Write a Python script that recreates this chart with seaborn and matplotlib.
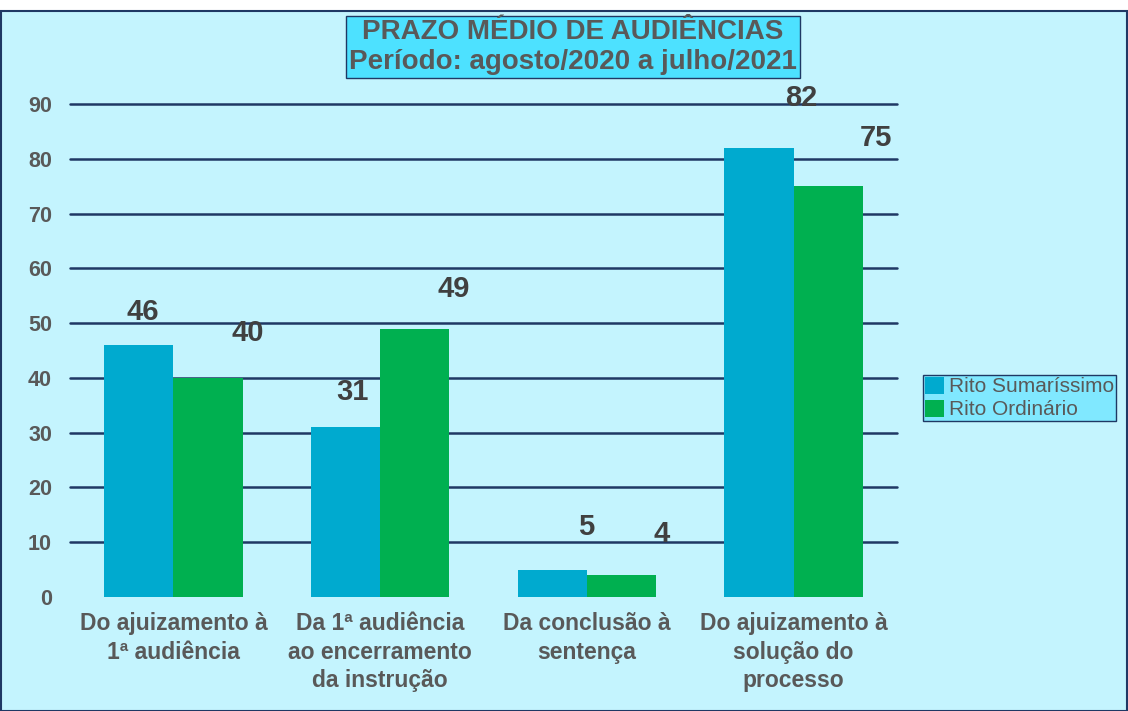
import pandas as pd
import numpy as np
import matplotlib
matplotlib.use('Agg')
import matplotlib.pyplot as plt
import seaborn as sns
from matplotlib.patches import Rectangle
import warnings
warnings.filterwarnings('ignore')

categories = ['Do ajuizamento à\n1ª audiência',
              'Da 1ª audiência\nao encerramento\nda instrução',
              'Da conclusão à\nsentença',
              'Do ajuizamento à\nsolução do\nprocesso']
series_names = ['Rito Sumaríssimo', 'Rito Ordinário']
sumarissimo = [46, 31, 5, 82]
ordinario = [40, 49, 4, 75]

# label offsets (px) to mimic the original label placement
label_dx = [[4, 7, 34, 42], [40, 39, 40, 48]]
label_dy = [33, 35, 43, 50, 45, 40, 41, 48]

BG = '#C4F4FE'
NAVY = '#1F3864'
GREY = '#595959'
colors = ['#00AACF', '#00B050']

sns.set_style('white')
plt.rcParams['font.family'] = ['Liberation Sans', 'DejaVu Sans']

df = pd.DataFrame({
    'categoria': categories * 2,
    'serie': [series_names[0]] * 4 + [series_names[1]] * 4,
    'valor': sumarissimo + ordinario,
})

fig = plt.figure(figsize=(11.28, 7.11), dpi=100)
fig.patch.set_facecolor('white')
fig.patches.append(Rectangle((0.001, 0.0), 0.998, 700 / 711, transform=fig.transFigure,
                             facecolor=BG, edgecolor=NAVY, linewidth=1.5, zorder=-10))

ax = fig.add_axes([70 / 1128, 1 - 597 / 711, 827 / 1128, 493 / 711])
ax.set_facecolor('none')
sns.barplot(data=df, x='categoria', y='valor', hue='serie', palette=colors,
            width=0.67, gap=0, saturation=1, linewidth=0, ax=ax, legend=True)

ax.set_ylim(0, 90)
ax.set_xlim(-0.5, 3.5)
ax.set_yticks(range(0, 91, 10))
ax.yaxis.grid(True, color=NAVY, linewidth=1.8)
ax.set_axisbelow(True)
gl = ax.get_ygridlines()
gl[0].set_visible(False)
for g in gl:
    g.set_clip_on(False)
for s in ax.spines.values():
    s.set_visible(False)
ax.set_xlabel('')
ax.set_ylabel('')
ax.tick_params(axis='y', length=0, pad=13, labelsize=15.5, labelcolor=GREY)
ax.tick_params(axis='x', length=0, pad=11, labelcolor=GREY)
for t in ax.get_yticklabels():
    t.set_fontweight('bold')
for t in ax.get_xticklabels():
    t.set_fontweight('bold')
    t.set_fontsize(16.5)
    t.set_linespacing(1.3)

k = 0
for si, cont in enumerate(ax.containers):
    for bi, bar in enumerate(cont):
        h = bar.get_height()
        xc = bar.get_x() + bar.get_width() / 2
        ax.annotate(f'{int(h)}', xy=(xc, h),
                    xytext=(label_dx[si][bi] * 0.72, label_dy[k] * 0.72),
                    textcoords='offset points', ha='center', va='center',
                    fontsize=21, fontweight='bold', color='#404040',
                    annotation_clip=False)
        k += 1

leg = ax.legend(loc='center left', bbox_to_anchor=(923 / 1128, 1 - 398 / 711),
                bbox_transform=fig.transFigure, frameon=True, fancybox=False,
                fontsize=15, handlelength=0.9, handleheight=0.9, handletextpad=0.25,
                borderpad=0.1, labelspacing=0.15, borderaxespad=0)
leg.get_frame().set_facecolor('#80E8FF')
leg.get_frame().set_edgecolor(NAVY)
leg.get_frame().set_alpha(1)
for t in leg.get_texts():
    t.set_color(GREY)

fig.text(573 / 1128, 1 - 47 / 711,
         'PRAZO MÉDIO DE AUDIÊNCIAS\nPeríodo: agosto/2020 a julho/2021',
         ha='center', va='center', fontsize=20, fontweight='bold', color=GREY,
         linespacing=1.2,
         bbox=dict(boxstyle='square,pad=0.12', facecolor='#4DE1FF', edgecolor=NAVY, linewidth=1))

fig.savefig('out.png', dpi=100, facecolor=fig.get_facecolor())
